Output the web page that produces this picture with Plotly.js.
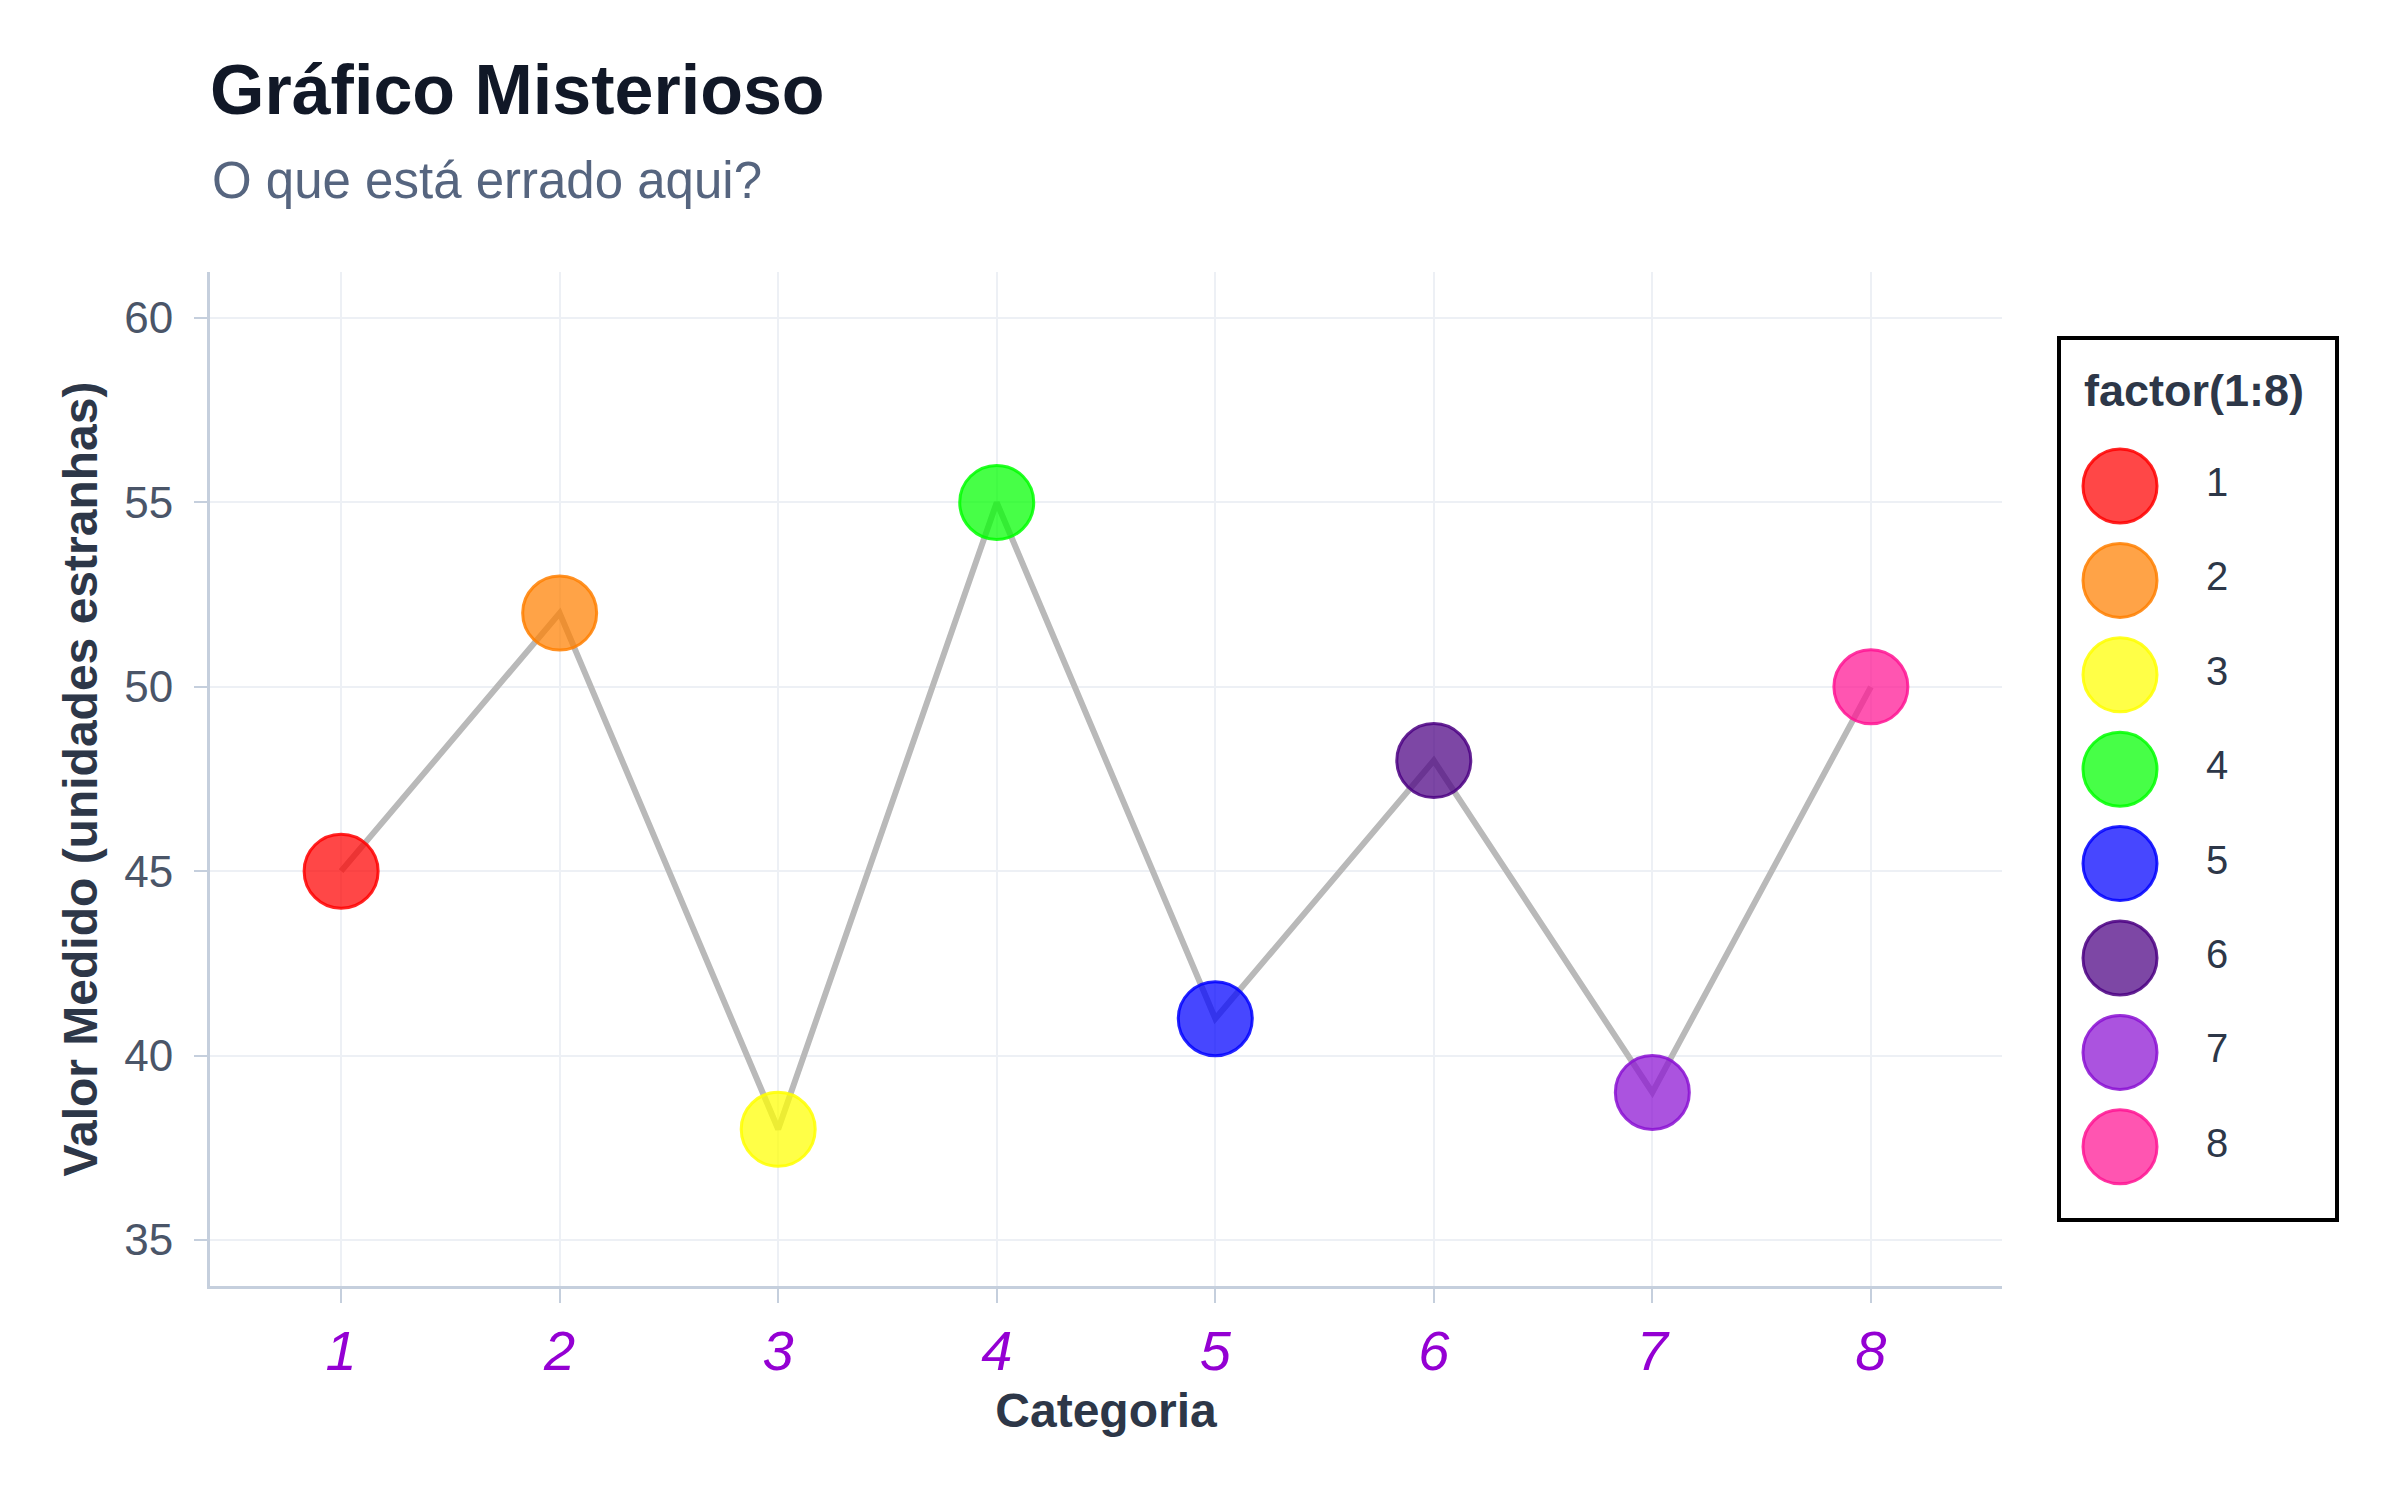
<!DOCTYPE html>
<html>
<head>
<meta charset="utf-8">
<script src="https://cdn.plot.ly/plotly-3.0.1.min.js"></script>
<style>html,body{margin:0;padding:0;background:#fff;}#chart{width:2400px;height:1500px;}</style>
</head>
<body>
<div id="chart"></div>
<script>
// ---- data ----
const categories = [1, 2, 3, 4, 5, 6, 7, 8];
const tickLabels = ['1', '2', '3', '4', '5', '6', '7', '8'];
const values = [45, 52, 38, 55, 41, 48, 39, 50];
const legendLabels = ['1', '2', '3', '4', '5', '6', '7', '8'];
const yTicks = [35, 40, 45, 50, 55, 60];
const pointColors = ['#FF0000', '#FF7F00', '#FFFF00', '#00FF00', '#0000FF', '#4B0082', '#8A10D2', '#FF1493'];

const FONT = 'Liberation Sans, Arial, Helvetica, sans-serif';
const W = 2400, H = 1500;
const mL = 210, mR = 40, mT = 272, mB = 214;
const paperW = W - mL - mR;          // 2150
const plotRight = 2002;
const mainDomainEnd = (plotRight - mL) / paperW;

// legend box geometry (pixels)
const legL = 2059, legR = 2337, legT = 338, legB = 1220;
const legItem0 = 486, legStep = 94.4;
const plotTop = mT, plotBot = H - mB;
const toPaperY = p => (plotBot - p) / (plotBot - plotTop);
const toPaperX = p => (p - mL) / paperW;

function hexToRgba(h, a) {
  const r = parseInt(h.slice(1, 3), 16), g = parseInt(h.slice(3, 5), 16), b = parseInt(h.slice(5, 7), 16);
  return `rgba(${r},${g},${b},${a})`;
}

const traces = [];
// connecting line (drawn under markers)
traces.push({
  type: 'scatter', mode: 'lines', x: categories, y: values,
  line: { color: '#b9b9b9', width: 6 },
  hoverinfo: 'skip', showlegend: false, xaxis: 'x', yaxis: 'y'
});
// colored points
traces.push({
  type: 'scatter', mode: 'markers', x: categories, y: values,
  marker: {
    size: 74,
    color: pointColors.map(c => hexToRgba(c, 0.72)),
    line: { color: pointColors.map(c => hexToRgba(c, 0.85)), width: 3 }
  },
  showlegend: false, xaxis: 'x', yaxis: 'y'
});
// legend keys (auxiliary axes)
const legMarkX = legendLabels.map(() => 2120 - legL);
const legTextX = legendLabels.map(() => 2206 - legL);
const legY = legendLabels.map((_, i) => i);
traces.push({
  type: 'scatter', mode: 'markers', x: legMarkX, y: legY,
  marker: {
    size: 74,
    color: pointColors.map(c => hexToRgba(c, 0.72)),
    line: { color: pointColors.map(c => hexToRgba(c, 0.85)), width: 3 }
  },
  hoverinfo: 'skip', showlegend: false, xaxis: 'x2', yaxis: 'y2', cliponaxis: false
});
traces.push({
  type: 'scatter', mode: 'text', x: legTextX, y: legY, text: legendLabels,
  textposition: 'middle right',
  textfont: { family: FONT, size: 40, color: '#2d3748' },
  hoverinfo: 'skip', showlegend: false, xaxis: 'x2', yaxis: 'y2', cliponaxis: false
});

const yTop2 = (plotTop - legItem0) / legStep;   // index value at plot top
const yBot2 = (plotBot - legItem0) / legStep;   // index value at plot bottom

const layout = {
  width: W, height: H,
  margin: { l: mL, r: mR, t: mT, b: mB },
  paper_bgcolor: '#ffffff', plot_bgcolor: '#ffffff',
  showlegend: false,
  font: { family: FONT, color: '#2d3748' },
  title: {
    text: 'Gráfico Misterioso',
    font: { family: FONT, size: 70, color: '#111827', weight: 700 },
    xref: 'container', yref: 'container',
    x: mL / W, xanchor: 'left', y: 1 - 89 / H, yanchor: 'middle'
  },
  xaxis: {
    domain: [0, mainDomainEnd],
    range: [0.4, 8.6],
    tickmode: 'array', tickvals: categories, ticktext: tickLabels,
    tickfont: { family: FONT, size: 56, color: '#9400D3', style: 'italic' },
    showline: true, linecolor: '#c5cfdd', linewidth: 3,
    ticks: 'outside', ticklen: 14, tickwidth: 2, tickcolor: '#c5cfdd',
    showgrid: true, gridcolor: '#edf0f5', gridwidth: 2, zeroline: false,
    title: { text: 'Categoria', font: { family: FONT, size: 48, color: '#2d3748', weight: 700 }, standoff: 13 }
  },
  yaxis: {
    range: [33.75, 61.25],
    tickmode: 'array', tickvals: yTicks,
    tickfont: { family: FONT, size: 44, color: '#4a5568' },
    ticklabelstandoff: 12,
    showline: true, linecolor: '#c5cfdd', linewidth: 3,
    ticks: 'outside', ticklen: 13, tickwidth: 2, tickcolor: '#c5cfdd',
    showgrid: true, gridcolor: '#edf0f5', gridwidth: 2, zeroline: false,
    title: { text: 'Valor Medido (unidades estranhas)', font: { family: FONT, size: 48, color: '#2d3748', weight: 700 }, standoff: 12 }
  },
  xaxis2: {
    domain: [toPaperX(legL), toPaperX(legR)], range: [0, legR - legL],
    visible: false, fixedrange: true, anchor: 'y2'
  },
  yaxis2: {
    domain: [0, 1], range: [yBot2, yTop2],
    visible: false, fixedrange: true, anchor: 'x2'
  },
  shapes: [{
    type: 'rect', xref: 'paper', yref: 'paper',
    x0: toPaperX(legL), x1: toPaperX(legR), y0: toPaperY(legB), y1: toPaperY(legT),
    line: { color: '#000000', width: 4 }, fillcolor: 'rgba(0,0,0,0)', layer: 'below'
  }],
  annotations: [
    {
      text: 'O que está errado aqui?', xref: 'paper', yref: 'paper',
      x: 0, xanchor: 'left', y: toPaperY(180), yanchor: 'middle', showarrow: false,
      font: { family: FONT, size: 51, color: '#56657f' }
    },
    {
      text: 'factor(1:8)', xref: 'paper', yref: 'paper',
      x: toPaperX(2082), xanchor: 'left', y: toPaperY(390), yanchor: 'middle', showarrow: false,
      font: { family: FONT, size: 45, color: '#2d3748', weight: 700 }
    }
  ]
};

Plotly.newPlot('chart', traces, layout, { displayModeBar: false, staticPlot: true });
</script>
</body>
</html>
